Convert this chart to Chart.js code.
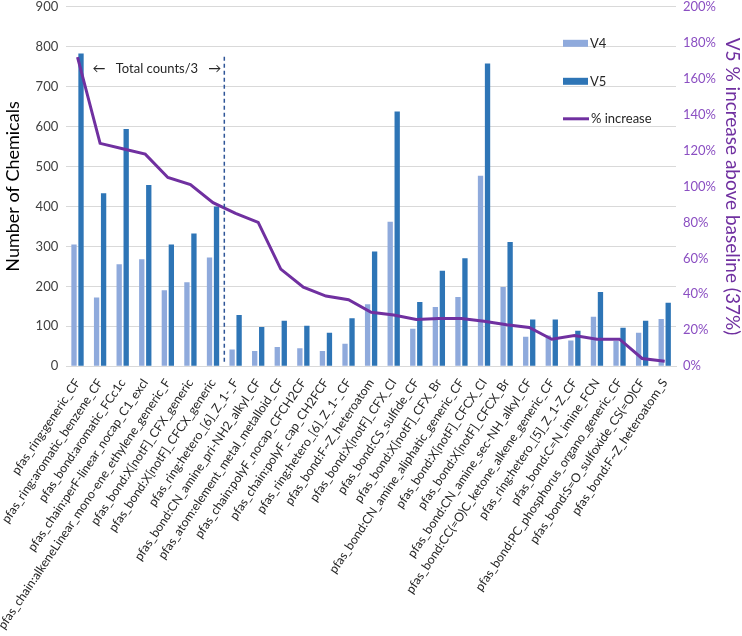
<!DOCTYPE html>
<html>
<head>
<meta charset="utf-8">
<script src="https://cdn.jsdelivr.net/npm/chart.js@4.4.1/dist/chart.umd.min.js"></script>
<style>
  html, body { margin: 0; padding: 0; background: #ffffff; overflow: hidden; }
  body { width: 742px; height: 636px; position: relative; }
  #wrap { width: 742px; height: 645px; position: absolute; left: 0; top: -9px; }
</style>
</head>
<body>
<div id="wrap"><canvas id="pfasChart"></canvas></div>
<script>
(function () {
  'use strict';

  var categories = [
    'pfas_ring:generic_CF',
    'pfas_ring:aromatic_benzene_CF',
    'pfas_bond:aromatic_FCc1c',
    'pfas_chain:perF-linear_nocap_C1_excl',
    'pfas_chain:alkeneLinear_mono-ene_ethylene_generic_F',
    'pfas_bond:X[notF]_CFX_generic',
    'pfas_bond:X[notF]_CFCX_generic',
    'pfas_ring:hetero_[6]_Z_1-_F',
    'pfas_bond:CN_amine_pri-NH2_alkyl_CF',
    'pfas_atom:element_metal_metalloid_CF',
    'pfas_chain:polyF_nocap_CFCH2CF',
    'pfas_chain:polyF_cap_CH2FCF',
    'pfas_ring:hetero_[6]_Z_1-_CF',
    'pfas_bond:F~Z_heteroatom',
    'pfas_bond:X[notF]_CFX_Cl',
    'pfas_bond:CS_sulfide_CF',
    'pfas_bond:X[notF]_CFX_Br',
    'pfas_bond:CN_amine_aliphatic_generic_CF',
    'pfas_bond:X[notF]_CFCX_Cl',
    'pfas_bond:X[notF]_CFCX_Br',
    'pfas_bond:CN_amine_sec-NH_alkyl_CF',
    'pfas_bond:CC(=O)C_ketone_alkene_generic_CF',
    'pfas_ring:hetero_[5]_Z_1-Z_CF',
    'pfas_bond:C=N_imine_FCN',
    'pfas_bond:PC_phosphorus_organo_generic_CF',
    'pfas_bond:S=O_sulfoxide_CS(=O)CF',
    'pfas_bond:F~Z_heteroatom_S'
  ];

  var v4Counts = [305, 172, 255, 268, 190, 210, 272, 42, 38, 48, 45, 38, 56, 155,
    362, 94, 148, 173, 477, 198, 74, 77, 64, 124, 63, 84, 118];

  var v5Counts = [783, 433, 594, 454, 305, 332, 400, 128, 98, 114, 101, 84, 120, 287,
    638, 161, 239, 270, 758, 311, 117, 117, 89, 186, 96, 114, 159];

  var pctIncrease = [172, 124, 121, 118, 105, 101, 91, 85, 80, 54, 44, 39, 37, 30,
    28.5, 26, 26.5, 26.5, 25, 23, 21.5, 15, 17, 15, 15, 4.3, 2.8];

  var countTicks = [0, 100, 200, 300, 400, 500, 600, 700, 800, 900];
  var pctTicks = [0, 20, 40, 60, 80, 100, 120, 140, 160, 180, 200];

  var FONT = 'Lato';
  var PURPLE = '#7030A0';
  var V4_COLOR = '#8FAADC';
  var V5_COLOR = '#2E75B6';

  // dashed "Total counts/3" marker + in-plot legend
  var overlayPlugin = {
    id: 'overlay',
    afterDatasetsDraw: function (chart) {
      var ctx = chart.ctx;
      var xs = chart.scales.x;
      var ys = chart.scales.y;
      var area = chart.chartArea;

      var dashX = (xs.getPixelForValue(6) + xs.getPixelForValue(7)) / 2;
      ctx.save();
      ctx.strokeStyle = '#2F5597';
      ctx.lineWidth = 1.5;
      ctx.setLineDash([4, 3]);
      ctx.beginPath();
      ctx.moveTo(dashX, ys.getPixelForValue(775));
      ctx.lineTo(dashX, area.bottom - 3);
      ctx.stroke();
      ctx.setLineDash([]);

      var textY = ys.getPixelForValue(745);
      ctx.fillStyle = '#262626';
      ctx.font = '13px ' + FONT;
      ctx.textBaseline = 'middle';
      ctx.textAlign = 'right';
      ctx.fillText('\u2192', dashX - 3, textY);
      ctx.textAlign = 'left';
      ctx.fillText('\u2190', xs.getPixelForValue(0) + 15, textY);
      ctx.textAlign = 'center';
      ctx.fillText('Total counts/3', (xs.getPixelForValue(0) + dashX) / 2 + 6, textY);

      // legend
      var lx = area.right - 113;
      ctx.font = '13px ' + FONT;
      ctx.textAlign = 'left';
      ctx.fillStyle = V4_COLOR;
      ctx.fillRect(lx, area.top + 33, 25, 7);
      ctx.fillStyle = V5_COLOR;
      ctx.fillRect(lx, area.top + 71, 25, 7);
      ctx.strokeStyle = PURPLE;
      ctx.lineWidth = 3;
      ctx.beginPath();
      ctx.moveTo(lx, area.top + 112);
      ctx.lineTo(lx + 26, area.top + 112);
      ctx.stroke();
      ctx.fillStyle = '#262626';
      ctx.fillText('V4', lx + 27, area.top + 37);
      ctx.fillText('V5', lx + 27, area.top + 75);
      ctx.fillText('% increase', lx + 28, area.top + 112);
      ctx.restore();
    }
  };

  function renderChart() {
    var canvas = document.getElementById('pfasChart');
    if (!canvas || typeof Chart === 'undefined') return;

    new Chart(canvas, {
      type: 'bar',
      data: {
        labels: categories,
        datasets: [
          {
            type: 'line',
            label: '% increase',
            data: pctIncrease,
            yAxisID: 'y1',
            borderColor: PURPLE,
            backgroundColor: PURPLE,
            borderWidth: 3,
            pointRadius: 0,
            tension: 0,
            order: 0
          },
          {
            label: 'V4',
            data: v4Counts,
            yAxisID: 'y',
            backgroundColor: V4_COLOR,
            categoryPercentage: 0.62,
            barPercentage: 0.76,
            order: 1
          },
          {
            label: 'V5',
            data: v5Counts,
            yAxisID: 'y',
            backgroundColor: V5_COLOR,
            categoryPercentage: 0.62,
            barPercentage: 0.76,
            order: 2
          }
        ]
      },
      options: {
        responsive: true,
        maintainAspectRatio: false,
        animation: false,
        layout: { padding: { top: 0, right: 0, left: 2, bottom: 2 } },
        plugins: {
          legend: { display: false },
          tooltip: { enabled: false }
        },
        scales: {
          x: {
            grid: { display: false },
            border: { color: '#d9d9d9', width: 1 },
            ticks: {
              autoSkip: false,
              maxRotation: 56,
              minRotation: 56,
              padding: 2,
              color: '#262626',
              font: { family: FONT, size: 12.3 }
            }
          },
          y: {
            position: 'left',
            min: 0,
            max: 900,
            afterBuildTicks: function (scale) {
              scale.ticks = countTicks.map(function (v) { return { value: v }; });
            },
            grid: { color: '#d9d9d9', lineWidth: 1, drawTicks: false },
            border: { display: false },
            ticks: {
              padding: 8,
              color: '#404040',
              font: { family: FONT, size: 13 }
            },
            title: {
              display: true,
              text: 'Number of Chemicals',
              color: '#000000',
              padding: { top: 0, bottom: 4 },
              font: { family: FONT, size: 18 }
            }
          },
          y1: {
            position: 'right',
            min: 0,
            max: 200,
            afterBuildTicks: function (scale) {
              scale.ticks = pctTicks.map(function (v) { return { value: v }; });
            },
            afterFit: function (scale) {
              scale.width = 66;
            },
            grid: { drawOnChartArea: false, drawTicks: false },
            border: { display: false },
            ticks: {
              padding: 7,
              color: '#8B4FC2',
              font: { family: FONT, size: 13 },
              callback: function (value) { return value + '%'; }
            },
            title: {
              display: true,
              text: 'V5 % increase above baseline (37%)',
              color: PURPLE,
              padding: { top: 0, bottom: 0 },
              font: { family: FONT, size: 19, lineHeight: 1 }
            }
          }
        }
      },
      plugins: [overlayPlugin]
    });
  }

  document.addEventListener('DOMContentLoaded', renderChart);
}());
</script>
</body>
</html>
